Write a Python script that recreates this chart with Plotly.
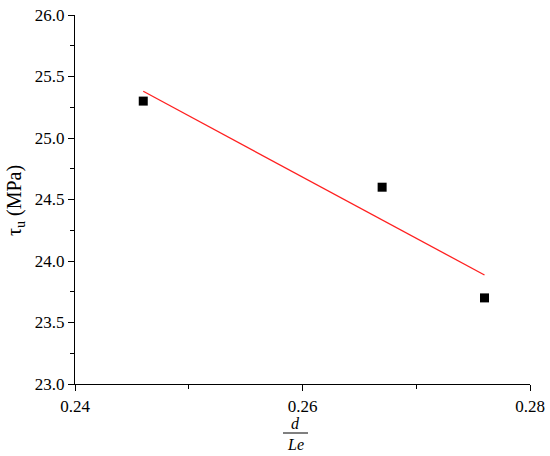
import numpy as np
import plotly.graph_objects as go

# Data
ratio_d_le = [0.246, 0.267, 0.276]
tau_u = [25.3, 24.6, 23.7]
x_ticks = [0.24, 0.26, 0.28]
x_tick_labels = ["0.24", "0.26", "0.28"]
y_ticks = [23.0, 23.5, 24.0, 24.5, 25.0, 25.5, 26.0]
y_tick_labels = ["23.0", "23.5", "24.0", "24.5", "25.0", "25.5", "26.0"]

# Linear fit of the data
slope, intercept = np.polyfit(ratio_d_le, tau_u, 1)
fit_x = [min(ratio_d_le), max(ratio_d_le)]
fit_y = [slope * v + intercept for v in fit_x]

W, H = 550, 456
ML, MR, MT, MB = 75, 20, 15, 72
PW, PH = W - ML - MR, H - MT - MB

def py(p):
    return (H - MB - p) / PH

def px(p):
    return (p - ML) / PW

font = "Liberation Serif"

fig = go.Figure()
fig.add_trace(go.Scatter(x=fit_x, y=fit_y, mode="lines",
                         line=dict(color="#ff2020", width=1.3), showlegend=False))
fig.add_trace(go.Scatter(x=ratio_d_le, y=tau_u, mode="markers",
                         marker=dict(symbol="square", size=9, color="black"),
                         showlegend=False))

fig.update_layout(
    width=W, height=H,
    margin=dict(l=ML, r=MR, t=MT, b=MB, autoexpand=False),
    paper_bgcolor="white", plot_bgcolor="white",
    font=dict(family=font, size=17, color="black"),
    xaxis=dict(range=[0.24, 0.28], tickvals=x_ticks, ticktext=x_tick_labels,
               showline=True, linecolor="black", linewidth=1.3,
               ticks="outside", ticklen=6, tickwidth=1.3, tickcolor="black",
               showgrid=False, zeroline=False, ticklabeloverflow="allow",
               minor=dict(ticks="outside", dtick=0.01, ticklen=4, tickwidth=1.3,
                          tickcolor="black", showgrid=False)),
    yaxis=dict(range=[23.0, 26.0], tickvals=y_ticks, ticktext=y_tick_labels,
               showline=True, linecolor="black", linewidth=1.3,
               ticks="outside", ticklen=6, tickwidth=1.3, tickcolor="black",
               showgrid=False, zeroline=False, ticklabeloverflow="allow",
               minor=dict(ticks="outside", dtick=0.25, ticklen=4, tickwidth=1.3,
                          tickcolor="black", showgrid=False)),
)

# Y title
fig.add_annotation(text="τ<sub>u</sub> (MPa)", xref="paper", yref="paper",
                   x=px(16), y=py(200), textangle=-90, showarrow=False,
                   font=dict(family=font, size=20, color="black"),
                   xanchor="center", yanchor="middle")
# X title as fraction d / Le
fig.add_annotation(text="<i>d</i>", xref="paper", yref="paper",
                   x=px(295), y=py(423), showarrow=False,
                   font=dict(family=font, size=16, color="black"),
                   xanchor="center", yanchor="middle")
fig.add_annotation(text="<i>Le</i>", xref="paper", yref="paper",
                   x=px(295), y=py(444), showarrow=False,
                   font=dict(family=font, size=16, color="black"),
                   xanchor="center", yanchor="middle")
fig.add_shape(type="line", xref="paper", yref="paper",
              x0=px(283), x1=px(308), y0=py(433), y1=py(433),
              line=dict(color="black", width=1))

# Remove the browser's default body margin so the figure sits at the page origin
fig.write_html("out.html", config={"displayModeBar": False},
               post_script="document.body.style.margin='0';")
